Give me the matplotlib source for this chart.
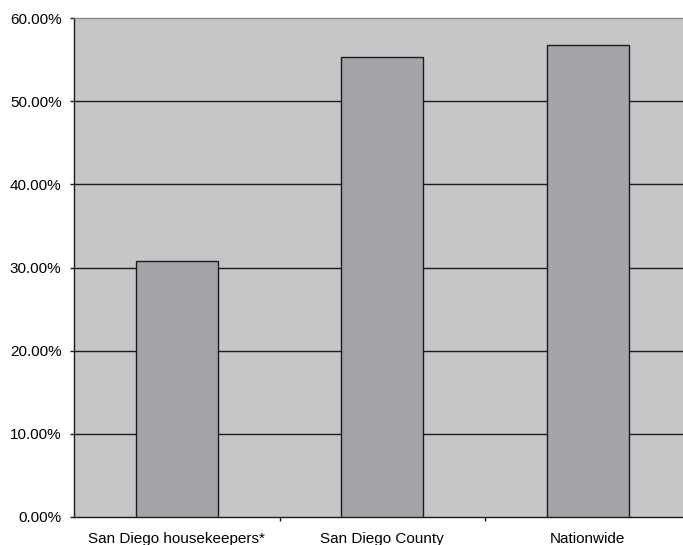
import matplotlib
matplotlib.use("Agg")
import matplotlib.pyplot as plt
from matplotlib.ticker import FuncFormatter, FixedLocator

categories = ["San Diego housekeepers*", "San Diego County", "Nationwide"]
values = [30.8, 55.3, 56.8]
y_ticks = [0, 10, 20, 30, 40, 50, 60]

plt.rcParams["font.family"] = ["Liberation Sans", "DejaVu Sans"]

fig = plt.figure(figsize=(6.83, 5.45), dpi=100)
ax = fig.add_axes([74 / 683, 28 / 545, 616.5 / 683, 499 / 545])
ax.set_facecolor("#c5c6c8")

x = range(len(categories))
ax.bar(x, values, width=0.4, color="#a4a5a8", edgecolor="#1a1a1a",
       linewidth=1.0, zorder=3)

ax.set_xlim(-0.5, len(categories) - 0.5)
ax.set_ylim(0, 60)
ax.set_yticks(y_ticks)
ax.yaxis.set_major_formatter(FuncFormatter(lambda v, p: f"{v:.2f}%"))
for t in y_ticks[1:-1]:
    ax.axhline(t, color="#1a1a1a", linewidth=1.0, zorder=2)

# category labels centered under bars, ticks at category boundaries
ax.set_xticks(list(x))
ax.set_xticklabels(categories)
ax.tick_params(axis="x", which="major", length=0, pad=10.5, labelsize=11)
ax.xaxis.set_minor_locator(FixedLocator([i + 0.5 for i in range(len(categories) - 1)]))
ax.tick_params(axis="x", which="minor", length=3, width=1, color="#1a1a1a")
ax.tick_params(axis="y", length=3, width=1, color="#1a1a1a", pad=6, labelsize=11)

for s in ["left", "bottom"]:
    ax.spines[s].set_color("#1a1a1a")
    ax.spines[s].set_linewidth(1.0)
ax.spines["top"].set_color("#8a8a8a")
ax.spines["top"].set_linewidth(1.0)
ax.spines["right"].set_visible(False)

fig.savefig("out.png", dpi=100, facecolor="white")
